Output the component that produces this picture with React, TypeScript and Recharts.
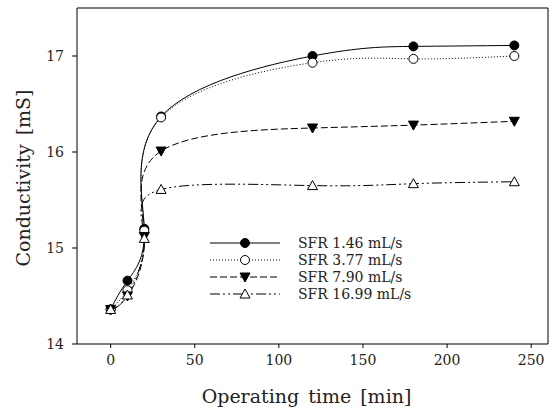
import { LineChart, Line, XAxis, YAxis, ReferenceLine, Label } from 'recharts';

// operating time [min]
const times = [0, 10, 20, 30, 120, 180, 240];

// conductivity [mS] for each solvent flow rate
const sfr146 = [14.36, 14.66, 15.2, 16.37, 17.0, 17.1, 17.11];
const sfr377 = [14.36, 14.56, 15.18, 16.36, 16.93, 16.97, 17.0];
const sfr790 = [14.36, 14.5, 15.12, 16.01, 16.25, 16.28, 16.32];
const sfr1699 = [14.36, 14.51, 15.1, 15.61, 15.65, 15.67, 15.69];

const seriesNames = ['SFR 1.46 mL/s', 'SFR 3.77 mL/s', 'SFR 7.90 mL/s', 'SFR 16.99 mL/s'];

const xTicks = [0, 50, 100, 150, 200, 250];
const yTicks = [14, 15, 16, 17];

const FONT = '"DejaVu Serif", serif';

const chartData = times.map((t, i) => ({
  time: t,
  s1: sfr146[i],
  s2: sfr377[i],
  s3: sfr790[i],
  s4: sfr1699[i],
}));

type MarkerKind = 'filledCircle' | 'openCircle' | 'filledDown' | 'openUp';

const series: { key: string; name: string; dash?: string; marker: MarkerKind }[] = [
  { key: 's1', name: seriesNames[0], marker: 'filledCircle' },
  { key: 's2', name: seriesNames[1], dash: '1 2', marker: 'openCircle' },
  { key: 's3', name: seriesNames[2], dash: '7 3', marker: 'filledDown' },
  { key: 's4', name: seriesNames[3], dash: '10 3 2 3 2 3', marker: 'openUp' },
];

const Marker = ({ kind, cx, cy }: { kind: MarkerKind; cx: number; cy: number }) => {
  if (kind === 'filledCircle') return <circle cx={cx} cy={cy} r={4.5} fill="#000" stroke="#000" strokeWidth={1} />;
  if (kind === 'openCircle') return <circle cx={cx} cy={cy} r={4.5} fill="#fff" stroke="#000" strokeWidth={1} />;
  if (kind === 'filledDown')
    return (
      <polygon
        points={`${cx - 5},${cy - 4} ${cx + 5},${cy - 4} ${cx},${cy + 5}`}
        fill="#000"
        stroke="#000"
        strokeWidth={1}
      />
    );
  return (
    <polygon
      points={`${cx - 5},${cy + 4} ${cx + 5},${cy + 4} ${cx},${cy - 5}`}
      fill="#fff"
      stroke="#000"
      strokeWidth={1}
    />
  );
};

const makeDot = (kind: MarkerKind) => (props: any) => {
  const { cx, cy, index } = props;
  if (cx == null || cy == null) return <g key={index} />;
  return (
    <g key={index}>
      <Marker kind={kind} cx={cx} cy={cy} />
    </g>
  );
};

const ChartLegend = () => (
  <div style={{ position: 'absolute', left: 205, top: 235, fontFamily: FONT, fontSize: 14, color: '#222' }}>
    {series.map(s => (
      <div key={s.key} style={{ display: 'flex', alignItems: 'center', height: 16.8 }}>
        <svg width={80} height={16} style={{ display: 'block' }}>
          <line x1={5} y1={8} x2={75} y2={8} stroke="#000" strokeWidth={1} strokeDasharray={s.dash} />
          <Marker kind={s.marker} cx={40} cy={8} />
        </svg>
        <span style={{ marginLeft: 13, lineHeight: '16px', whiteSpace: 'nowrap' }}>{s.name}</span>
      </div>
    ))}
  </div>
);

const App = () => {
  return (
    <div style={{ position: 'absolute', left: 0, top: 0, width: 553, height: 409, background: '#fff' }}>
      <LineChart width={553} height={409} data={chartData} margin={{ top: 8, right: 5, left: 0, bottom: 0 }}>
        <XAxis
          dataKey="time"
          type="number"
          domain={[-20, 260]}
          ticks={xTicks}
          height={65}
          stroke="#000"
          tickSize={4}
          tickMargin={7}
          tick={{ fontFamily: FONT, fontSize: 14, fill: '#222' }}
        >
          <Label
            content={({ viewBox }: any) => (
              <text
                x={viewBox.x + viewBox.width / 2 - 6}
                y={viewBox.y + 59}
                textAnchor="middle"
                fontFamily={FONT}
                fontSize={19}
                wordSpacing={3}
                fill="#222"
              >
                Operating time [min]
              </text>
            )}
          />
        </XAxis>
        <YAxis
          type="number"
          domain={[14, 17.5]}
          ticks={yTicks}
          width={77}
          stroke="#000"
          tickSize={5}
          tickMargin={8}
          tick={{ fontFamily: FONT, fontSize: 14, fill: '#222' }}
        >
          <Label
            content={({ viewBox }: any) => {
              const x = 23;
              const y = viewBox.y + viewBox.height / 2 + 2;
              return (
                <text
                  x={x}
                  y={y}
                  transform={`rotate(-90 ${x} ${y})`}
                  textAnchor="middle"
                  dominantBaseline="central"
                  fontFamily={FONT}
                  fontSize={19}
                  wordSpacing={3}
                  fill="#222"
                >
                  Conductivity [mS]
                </text>
              );
            }}
          />
        </YAxis>
        <ReferenceLine y={17.5} stroke="#000" strokeWidth={1} />
        <ReferenceLine x={260} stroke="#000" strokeWidth={1} />
        {series.map(s => (
          <Line
            key={s.key}
            dataKey={s.key}
            name={s.name}
            type="natural"
            stroke="#000"
            strokeWidth={1}
            strokeDasharray={s.dash}
            dot={makeDot(s.marker)}
            activeDot={false}
            isAnimationActive={false}
          />
        ))}
      </LineChart>
      <ChartLegend />
    </div>
  );
};

export default App;
